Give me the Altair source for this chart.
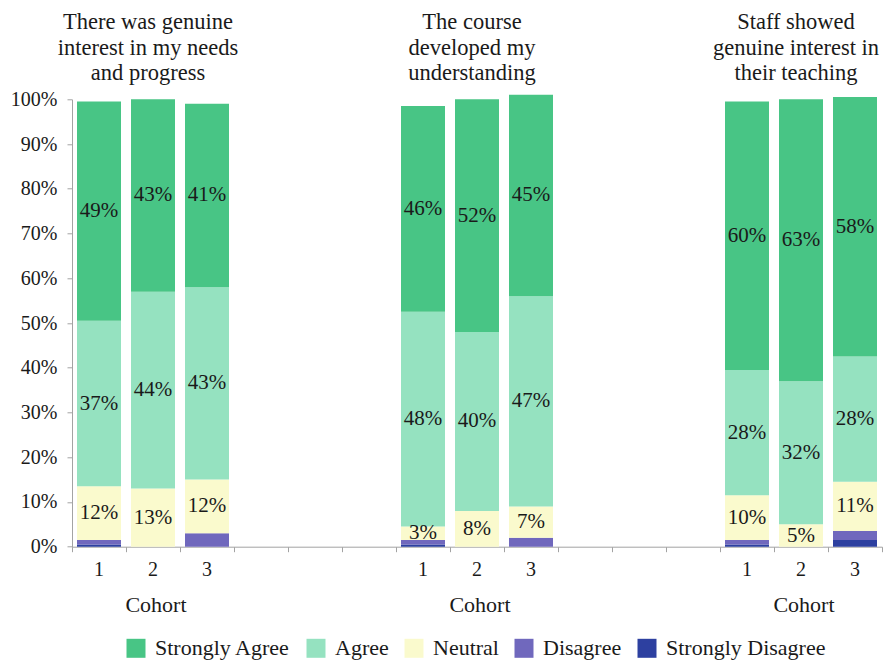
import altair as alt
import pandas as pd

# Survey questions (one panel each), cohorts and response categories
questions = [
    "There was genuine\ninterest in my needs\nand progress",
    "The course\ndeveloped my\nunderstanding",
    "Staff showed\ngenuine interest in\ntheir teaching",
]
cohorts = ["1", "2", "3"]
responses = ["Strongly Agree", "Agree", "Neutral", "Disagree", "Strongly Disagree"]
colors = ["#48c585", "#95e2c0", "#fafacd", "#7068bd", "#2d40a0"]

# Percentages per question (rows) and cohort (columns)
strongly_agree = [[49, 43, 41], [46, 52, 45], [60, 63, 58]]
agree = [[37, 44, 43], [48, 40, 47], [28, 32, 28]]
neutral = [[12, 13, 12], [3, 8, 7], [10, 5, 11]]
disagree = [[1, 0, 3], [1, 0, 2], [1, 0, 2]]
strongly_disagree = [[0.5, 0, 0], [0.5, 0, 0], [0.5, 0, 1.5]]

labelled = {"Strongly Agree", "Agree", "Neutral"}
SLOTS_PER_GROUP = 6
N_SLOTS = 15
FONT = "Liberation Serif"
TEXT = "#1a1a1a"
AXIS_GREY = "#a3a3a3"

series = {
    "Strongly Agree": strongly_agree,
    "Agree": agree,
    "Neutral": neutral,
    "Disagree": disagree,
    "Strongly Disagree": strongly_disagree,
}

rows = []
for g in range(len(questions)):
    for c in range(len(cohorts)):
        slot = g * SLOTS_PER_GROUP + c + 0.5
        base = 0.0
        # stack from the bottom: Strongly Disagree first
        for resp in reversed(responses):
            v = series[resp][g][c]
            rows.append({
                "slot": slot,
                "response": resp,
                "value": v,
                "start": base / 100,
                "end": (base + v) / 100,
                "mid": (base + v / 2) / 100,
                "label": f"{round(v)}%" if (resp in labelled and v > 0) else "",
            })
            base += v
df = pd.DataFrame(rows)

ticks_df = pd.DataFrame([
    {"slot": g * SLOTS_PER_GROUP + c + 0.5, "text": cohorts[c]}
    for g in range(len(questions)) for c in range(len(cohorts))
])
groups_df = pd.DataFrame([
    {"slot": g * SLOTS_PER_GROUP + 1.5, "question": q}
    for g, q in enumerate(questions)
])

W, H = 810, 447.4

x_enc = alt.X(
    "slot:Q",
    scale=alt.Scale(domain=[0, N_SLOTS], nice=False, zero=False, padding=0),
    axis=alt.Axis(
        values=list(range(N_SLOTS + 1)), labels=False, title=None, grid=False,
        tickSize=5, tickColor=AXIS_GREY, domainColor=AXIS_GREY,
    ),
)

bars = alt.Chart(df).mark_bar(size=44).encode(
    x=x_enc,
    y=alt.Y(
        "start:Q",
        scale=alt.Scale(domain=[0, 1], nice=False),
        axis=alt.Axis(
            values=[i / 10 for i in range(11)], format=".0%", title=None, grid=False,
            tickSize=5, tickColor=AXIS_GREY, domainColor=AXIS_GREY,
            labelFont=FONT, labelFontSize=20, labelColor=TEXT, labelPadding=10,
        ),
    ),
    y2="end:Q",
    color=alt.Color(
        "response:N",
        scale=alt.Scale(domain=responses, range=colors),
        legend=alt.Legend(
            title=None, orient="none", legendX=53, legendY=538, direction="horizontal",
            symbolType="square", symbolSize=361, symbolStrokeWidth=0, symbolOpacity=1,
            labelFont=FONT, labelFontSize=22, labelColor=TEXT, labelOffset=8,
            columnPadding=14,
        ),
    ),
)

values_text = alt.Chart(df).transform_filter("datum.label != ''").mark_text(
    font=FONT, fontSize=21, color=TEXT, baseline="middle", align="center"
).encode(x="slot:Q", y="mid:Q", text="label:N")

cohort_ticks = alt.Chart(ticks_df).mark_text(
    font=FONT, fontSize=20, color=TEXT, baseline="middle", align="center"
).encode(x="slot:Q", y=alt.value(H + 23.5), text="text:N")

cohort_titles = alt.Chart(groups_df).mark_text(
    font=FONT, fontSize=22, color=TEXT, baseline="middle", align="center", dx=3
).encode(x="slot:Q", y=alt.value(H + 58.5), text=alt.value("Cohort"))

question_titles = alt.Chart(groups_df).mark_text(
    font=FONT, fontSize=22.5, color=TEXT, baseline="middle", align="center",
    dx=-5, lineBreak="\n", lineHeight=25.5,
).encode(x="slot:Q", y=alt.value(-77.3), text="question:N")

chart = alt.layer(
    bars, values_text, cohort_ticks, cohort_titles, question_titles
).properties(
    width=W, height=H, autosize="none",
    padding={"left": 72, "top": 99.3, "right": 3, "bottom": 660 - 99.3 - H},
).configure_view(stroke=None)

chart.save("out.html", embed_options={"renderer": "svg", "actions": False})
